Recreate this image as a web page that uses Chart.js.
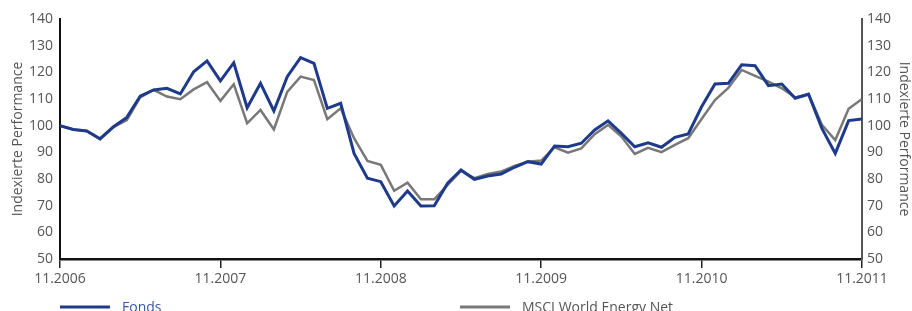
<!DOCTYPE html>
<html>
<head>
<meta charset="utf-8">
<script src="https://cdn.jsdelivr.net/npm/chart.js@4/dist/chart.umd.min.js"></script>
<style>
html,body{margin:0;padding:0;background:#fff;overflow:hidden;}
canvas{display:block;}
</style>
</head>
<body>
<canvas id="c" width="912" height="311"></canvas>
<script>
const xTickLabels = ['11.2006','11.2007','11.2008','11.2009','11.2010','11.2011'];
const seriesNames = ['Fonds','MSCI World Energy Net'];
const axisTitle = 'Indexierte Performance';
const fonds = [100,98.6,98.0,95.1,99.6,103.1,111.1,113.4,114.0,111.9,120.2,124.3,116.8,123.6,106.7,115.9,105.5,118.4,125.5,123.4,
  106.5,108.4,89.6,80.3,79.0,69.9,75.5,69.9,70.0,78.4,83.4,79.9,81.1,81.9,84.4,86.5,85.6,92.4,92.1,93.4,
  98.4,101.8,97.1,92.1,93.6,91.9,95.6,96.9,107.1,115.6,115.9,122.8,122.5,115.0,115.6,110.3,111.8,99.0,89.6,101.9,102.5];
const msci = [100,98.6,98.0,94.8,99.4,102.1,110.6,113.4,110.9,109.9,113.6,116.3,109.3,115.5,100.9,105.9,98.6,112.7,118.4,117.1,
  102.4,106.5,95.3,86.8,85.3,75.6,78.6,72.4,72.4,77.8,83.0,80.3,81.9,82.8,84.9,86.5,86.9,91.9,89.9,91.5,
  96.8,100.3,95.9,89.4,91.7,90.1,92.8,95.3,102.5,109.6,114.2,120.9,118.7,116.5,114.0,110.6,111.8,100.3,94.6,106.3,110.0];

const toPts = arr => arr.map((v,i)=>({x:i,y:v}));
const FONT = "'Open Sans', sans-serif";

const legendPlugin = {
  id:'customLegend',
  afterDraw(chart){
    const ctx = chart.ctx;
    const xs = [60,460];
    const textCols = ['#3a55a3','#555555'];
    ctx.save();
    chart.data.datasets.forEach((ds,i)=>{
      const x = xs[i], y = 307;
      ctx.strokeStyle = ds.borderColor;
      ctx.lineWidth = 3;
      ctx.beginPath(); ctx.moveTo(x,y); ctx.lineTo(x+50,y); ctx.stroke();
      ctx.fillStyle = textCols[i];
      ctx.font = "14px " + FONT;
      ctx.textBaseline = 'alphabetic';
      ctx.textAlign = 'left';
      ctx.fillText(ds.label, x+62, 312);
    });
    ctx.restore();
  }
};

new Chart(document.getElementById('c'), {
  type:'line',
  data:{
    datasets:[
      {label:seriesNames[0], data:toPts(fonds), borderColor:'#1e3a8a', borderWidth:3, pointRadius:0, tension:0, yAxisID:'y'},
      {label:seriesNames[1], data:toPts(msci), borderColor:'#787878', borderWidth:2.5, pointRadius:0, tension:0, yAxisID:'y'}
    ]
  },
  options:{
    responsive:false,
    animation:false,
    layout:{padding:{top:19,left:0,right:0,bottom:0}},
    plugins:{legend:{display:false},tooltip:{enabled:false}},
    scales:{
      x:{
        type:'linear', min:0, max:60,
        ticks:{stepSize:12, color:'#555', font:{family:FONT,size:14}, padding:3,
          callback:(v)=> xTickLabels[v/12], maxRotation:0},
        grid:{drawOnChartArea:false, drawTicks:true, tickLength:9, color:'#222', lineWidth:1.5},
        border:{display:true, color:'#111', width:2.5},
        afterFit:(s)=>{ s.height = 52; }
      },
      y:{
        position:'left', min:50, max:140,
        ticks:{stepSize:10, color:'#555', font:{family:FONT,size:14}, padding:7},
        grid:{drawOnChartArea:false, drawTicks:false},
        border:{display:true, color:'#111', width:2},
        title:{display:true, text:axisTitle, color:'#555', font:{family:FONT,size:14}, padding:{top:10,bottom:0}},
        afterFit:(s)=>{ s.width = 60; }
      },
      y2:{
        position:'right', min:50, max:140,
        ticks:{stepSize:10, color:'#555', font:{family:FONT,size:14}, padding:5},
        grid:{drawOnChartArea:false, drawTicks:false},
        border:{display:true, color:'#555', width:2},
        title:{display:true, text:axisTitle, color:'#555', font:{family:FONT,size:14}, padding:0},
        afterFit:(s)=>{ s.width = 50; }
      }
    }
  },
  plugins:[legendPlugin]
});
</script>
</body>
</html>
